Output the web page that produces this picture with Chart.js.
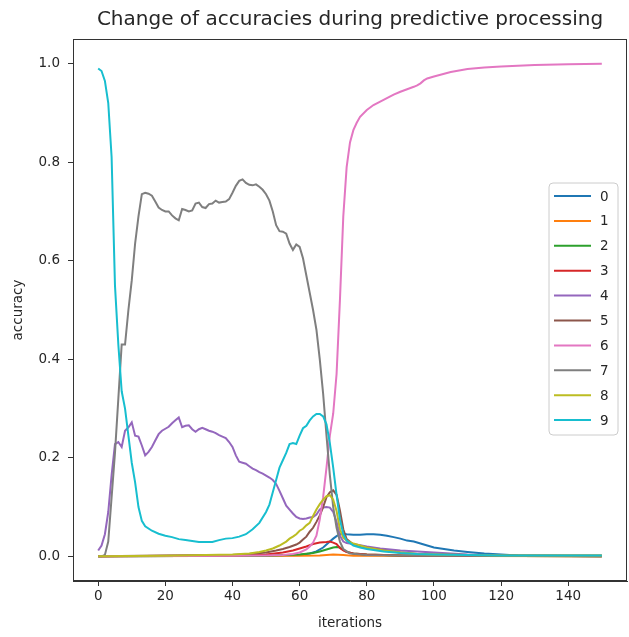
<!DOCTYPE html>
<html>
<head>
<meta charset="utf-8">
<script src="https://cdn.jsdelivr.net/npm/chart.js@4/dist/chart.umd.min.js"></script>
<style>
html,body{margin:0;padding:0;background:#fff;}
#wrap{width:629px;height:637px;position:relative;}
</style>
</head>
<body>
<div id="wrap"><canvas id="c"></canvas></div>
<script>
// ---- data ----
const seriesNames = ['0','1','2','3','4','5','6','7','8','9'];
const seriesColors = ['#1f77b4','#ff7f0e','#2ca02c','#d62728','#9467bd','#8c564b','#e377c2','#7f7f7f','#bcbd22','#17becf'];

const it0 = [0,50,60,63,65,67,68,69,70,71,72,73,74,76,78,80,82,84,86,88,90,92,94,96,98,100,103,106,110,115,120,125,130,150];
const acc0 = [0,0.001,0.003,0.006,0.01,0.018,0.024,0.03,0.036,0.041,0.045,0.046,0.045,0.044,0.044,0.045,0.045,0.044,0.042,0.039,0.036,0.032,0.03,0.026,0.022,0.018,0.015,0.012,0.009,0.006,0.004,0.002,0.001,0];

const it1 = [0,60,66,70,73,76,150];
const acc1 = [0,0.001,0.002,0.004,0.003,0.001,0];

const it2 = [0,50,60,64,66,68,70,71,72,73,74,76,80,90,100,150];
const acc2 = [0,0.001,0.004,0.007,0.01,0.014,0.018,0.019,0.018,0.013,0.009,0.006,0.004,0.002,0.001,0];

const it3 = [0,40,50,55,58,60,62,64,66,68,69,70,71,72,73,74,76,80,90,100,150];
const acc3 = [0,0.002,0.004,0.008,0.012,0.016,0.02,0.025,0.028,0.029,0.03,0.028,0.025,0.017,0.012,0.009,0.006,0.004,0.002,0.001,0];

const it4 = [0,1,2,3,4,5,6,7,8,9,10,11,12,13,14,15,16,17,18,19,20,21,22,23,24,25,26,27,28,29,30,31,32,33,34,35,36,37,38,39,40,41,42,43,44,45,46,47,48,49,50,51,52,53,54,55,56,57,58,59,60,61,62,63,64,65,66,67,68,69,70,71,72,73,74,76,80,84,90,95,100,110,120,150];
const acc4 = [0.012,0.022,0.045,0.09,0.165,0.228,0.232,0.222,0.255,0.262,0.272,0.245,0.243,0.225,0.205,0.212,0.222,0.235,0.248,0.255,0.259,0.263,0.27,0.276,0.282,0.262,0.265,0.266,0.258,0.253,0.258,0.261,0.258,0.255,0.253,0.25,0.246,0.243,0.24,0.232,0.222,0.205,0.192,0.19,0.188,0.183,0.178,0.175,0.171,0.168,0.164,0.16,0.155,0.147,0.133,0.118,0.103,0.095,0.087,0.08,0.077,0.076,0.077,0.079,0.08,0.085,0.095,0.099,0.1,0.099,0.09,0.07,0.042,0.03,0.027,0.025,0.02,0.016,0.012,0.01,0.008,0.004,0.002,0.001];

const it5 = [0,20,40,45,50,53,55,57,59,60,61,62,63,64,65,66,67,68,69,70,71,72,73,74,76,78,85,90,95,100,120,150];
const acc5 = [0,0.002,0.003,0.005,0.008,0.012,0.015,0.019,0.024,0.028,0.034,0.04,0.05,0.058,0.07,0.083,0.1,0.12,0.13,0.134,0.125,0.093,0.055,0.035,0.024,0.02,0.012,0.008,0.005,0.004,0.002,0.001];

const it6 = [0,40,50,55,58,60,62,63,64,65,66,67,68,69,70,71,72,73,74,75,76,77,78,80,82,84,86,88,90,92,94,95,96,97,98,100,105,110,115,120,130,140,150];
const acc6 = [0,0.001,0.002,0.003,0.005,0.008,0.014,0.02,0.028,0.042,0.075,0.12,0.18,0.245,0.29,0.37,0.52,0.69,0.79,0.84,0.865,0.88,0.892,0.906,0.916,0.923,0.93,0.937,0.943,0.948,0.953,0.956,0.96,0.966,0.97,0.974,0.983,0.989,0.992,0.994,0.997,0.999,1.0];

const it7 = [0,1,2,3,4,5,6,7,8,9,10,11,12,13,14,15,16,17,18,19,20,21,22,23,24,25,26,27,28,29,30,31,32,33,34,35,36,37,38,39,40,41,42,43,44,45,46,47,48,49,50,51,52,53,54,55,56,57,58,59,60,61,62,63,64,65,66,67,68,69,70,71,72,73,75,80,90,100,150];
const acc7 = [0,0,0.003,0.03,0.12,0.21,0.32,0.43,0.43,0.5,0.56,0.635,0.69,0.735,0.738,0.736,0.732,0.72,0.708,0.703,0.7,0.7,0.692,0.686,0.682,0.705,0.703,0.7,0.702,0.716,0.718,0.709,0.707,0.715,0.716,0.722,0.718,0.719,0.72,0.725,0.738,0.752,0.762,0.765,0.758,0.754,0.753,0.755,0.75,0.744,0.735,0.722,0.7,0.672,0.66,0.659,0.655,0.635,0.622,0.633,0.628,0.605,0.57,0.535,0.5,0.46,0.4,0.33,0.245,0.165,0.1,0.058,0.03,0.015,0.006,0.003,0.002,0.001,0.001];

const it8 = [0,20,40,45,48,50,52,54,55,56,57,58,59,60,61,62,63,64,65,66,67,68,69,70,71,72,73,74,76,80,85,90,95,100,120,150];
const acc8 = [0,0.001,0.004,0.006,0.009,0.012,0.016,0.022,0.026,0.03,0.036,0.04,0.045,0.052,0.056,0.063,0.068,0.082,0.095,0.106,0.115,0.122,0.124,0.115,0.092,0.055,0.038,0.032,0.026,0.018,0.012,0.008,0.005,0.004,0.002,0.002];

const it9 = [0,1,2,3,4,5,6,7,8,9,10,11,12,13,14,16,18,20,22,24,26,28,30,32,34,36,38,40,42,44,46,48,50,51,52,53,54,55,56,57,58,59,60,61,62,63,64,65,66,67,68,69,70,71,72,73,74,76,78,80,85,90,95,100,110,120,135,150];
const acc9 = [0.99,0.985,0.965,0.92,0.81,0.55,0.43,0.335,0.3,0.245,0.19,0.15,0.1,0.072,0.061,0.052,0.046,0.042,0.039,0.035,0.033,0.031,0.029,0.029,0.029,0.033,0.036,0.037,0.04,0.045,0.055,0.068,0.09,0.105,0.13,0.155,0.18,0.195,0.21,0.228,0.23,0.228,0.245,0.26,0.265,0.276,0.284,0.289,0.289,0.284,0.268,0.23,0.18,0.125,0.075,0.045,0.032,0.022,0.018,0.015,0.01,0.007,0.005,0.004,0.003,0.002,0.002,0.002];

const seriesX = [it0,it1,it2,it3,it4,it5,it6,it7,it8,it9];
const seriesY = [acc0,acc1,acc2,acc3,acc4,acc5,acc6,acc7,acc8,acc9];

const xTicks = [0,20,40,60,80,100,120,140];
const yTicks = [0,0.2,0.4,0.6,0.8,1.0];
const titleText = 'Change of accuracies during predictive processing';
const xLabel = 'iterations';
const yLabel = 'accuracy';

// ---- chart ----
const FONT = "'DejaVu Sans', sans-serif";
const TXT = '#262626';
const AX = '#333333';

const datasets = seriesNames.map((name, i) => ({
  label: name,
  data: seriesX[i].map((x, k) => ({x: x, y: seriesY[i][k]})),
  borderColor: seriesColors[i],
  backgroundColor: seriesColors[i],
  borderWidth: 2,
  pointRadius: 0,
  pointHoverRadius: 0,
  tension: 0,
  fill: false,
  order: seriesNames.length - i
}));

const framePlugin = {
  id: 'frame',
  afterDatasetsDraw(chart) {
    const {ctx, chartArea: a} = chart;
    ctx.save();
    ctx.strokeStyle = AX;
    ctx.lineWidth = 1;
    ctx.strokeRect(Math.round(a.left) + 0.5, Math.round(a.top) + 0.5,
                   Math.round(a.right - a.left) - 1, Math.round(a.bottom - a.top) - 1);
    ctx.restore();
  }
};

const legendPlugin = {
  id: 'boxLegend',
  afterDraw(chart) {
    const {ctx, chartArea: a} = chart;
    const bx = a.right - 78, by = a.top + 144, bw = 69, bh = 252, r = 4;
    ctx.save();
    ctx.beginPath();
    ctx.moveTo(bx + r, by);
    ctx.lineTo(bx + bw - r, by);
    ctx.arcTo(bx + bw, by, bx + bw, by + r, r);
    ctx.lineTo(bx + bw, by + bh - r);
    ctx.arcTo(bx + bw, by + bh, bx + bw - r, by + bh, r);
    ctx.lineTo(bx + r, by + bh);
    ctx.arcTo(bx, by + bh, bx, by + bh - r, r);
    ctx.lineTo(bx, by + r);
    ctx.arcTo(bx, by, bx + r, by, r);
    ctx.closePath();
    ctx.fillStyle = 'rgba(255,255,255,0.8)';
    ctx.fill();
    ctx.strokeStyle = '#cccccc';
    ctx.lineWidth = 1;
    ctx.stroke();
    ctx.font = '13.5px ' + FONT;
    ctx.textBaseline = 'middle';
    ctx.textAlign = 'left';
    chart.data.datasets.forEach((ds, i) => {
      const y = by + 13 + i * 24.9;
      ctx.strokeStyle = ds.borderColor;
      ctx.lineWidth = 2;
      ctx.beginPath();
      ctx.moveTo(bx + 5, y);
      ctx.lineTo(bx + 42, y);
      ctx.stroke();
      ctx.fillStyle = TXT;
      ctx.fillText(ds.label, bx + 51, y + 1);
    });
    ctx.restore();
  }
};

new Chart(document.getElementById('c'), {
  type: 'line',
  data: { datasets: datasets },
  options: {
    responsive: true,
    maintainAspectRatio: false,
    animation: false,
    devicePixelRatio: 1,
    layout: { padding: { left: 0, right: 2, top: 0, bottom: 0 } },
    plugins: {
      legend: { display: false },
      tooltip: { enabled: false },
      title: {
        display: true,
        text: titleText,
        fullSize: false,
        color: TXT,
        font: { family: FONT, size: 20, weight: 'normal' },
        padding: { top: 8, bottom: 7 }
      }
    },
    scales: {
      x: {
        type: 'linear',
        position: 'bottom',
        min: -7.5,
        max: 157.5,
        afterBuildTicks: s => { s.ticks = xTicks.map(v => ({value: v})); },
        afterFit: s => { s.height = 56; },
        grid: { display: true, drawOnChartArea: false, drawTicks: true, tickLength: 5, color: AX },
        border: { display: true, color: AX, width: 1 },
        ticks: { color: TXT, font: { family: FONT, size: 13.5 }, padding: 2, maxRotation: 0, autoSkip: false,
                 callback: v => String(v) },
        title: { display: true, text: xLabel, color: TXT, font: { family: FONT, size: 13.5 }, padding: { top: 0, bottom: 5 } }
      },
      y: {
        type: 'linear',
        position: 'left',
        min: -0.05,
        max: 1.05,
        afterBuildTicks: s => { s.ticks = yTicks.map(v => ({value: v})); },
        afterFit: s => { s.width = 73; },
        grid: { display: true, drawOnChartArea: false, drawTicks: true, tickLength: 5, color: AX },
        border: { display: true, color: AX, width: 1 },
        ticks: { color: TXT, font: { family: FONT, size: 13.5 }, padding: 8, autoSkip: false,
                 callback: v => Number(v).toFixed(1) },
        title: { display: true, text: yLabel, color: TXT, font: { family: FONT, size: 13.5 }, padding: { top: 10, bottom: 0 } }
      }
    }
  },
  plugins: [framePlugin, legendPlugin]
});
</script>
</body>
</html>
